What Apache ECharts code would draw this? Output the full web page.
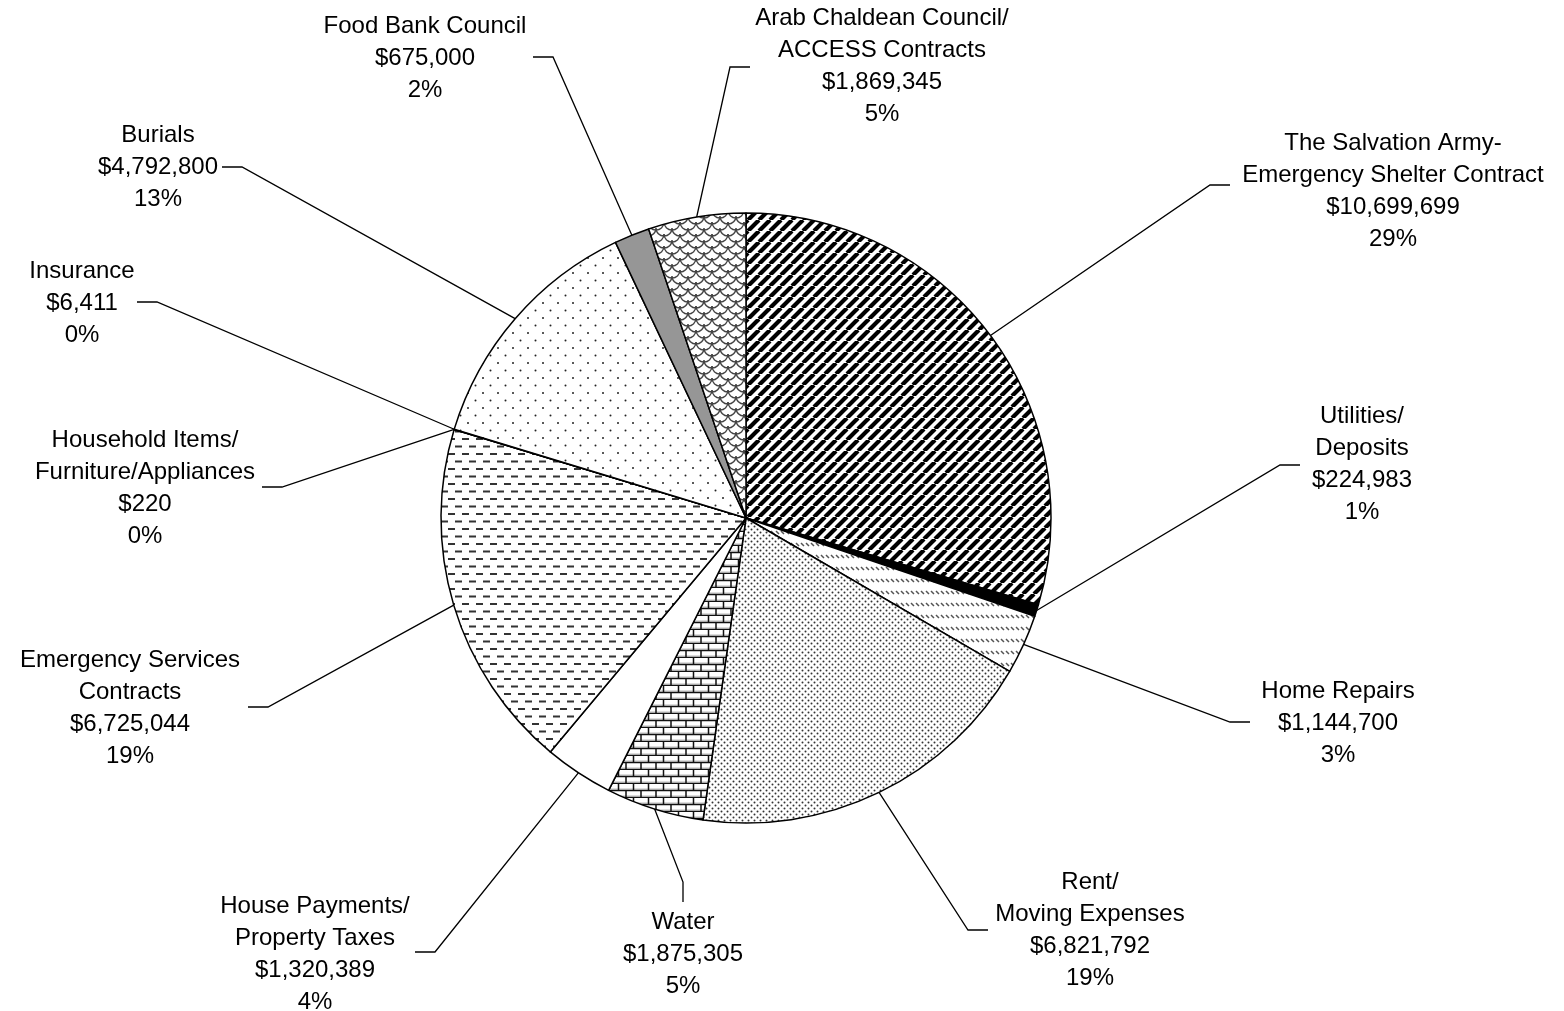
<!DOCTYPE html>
<html><head><meta charset="utf-8">
<script src="https://cdn.jsdelivr.net/npm/echarts@6/dist/echarts.min.js"></script>
<style>html,body{margin:0;padding:0;background:#fff}#c{width:1564px;height:1011px}</style>
</head><body><div id="c"></div>
<script>
// ---- data ----
const categories = [
  'The Salvation Army-\nEmergency Shelter Contract',
  'Utilities/\nDeposits',
  'Home Repairs',
  'Rent/\nMoving Expenses',
  'Water',
  'House Payments/\nProperty Taxes',
  'Emergency Services\nContracts',
  'Household Items/\nFurniture/Appliances',
  'Insurance',
  'Burials',
  'Food Bank Council',
  'Arab Chaldean Council/\nACCESS Contracts'
];
const amounts = [10699699, 224983, 1144700, 6821792, 1875305, 1320389, 6725044, 220, 6411, 4792800, 675000, 1869345];

// ---- layout (label block centre, line end, line bend) ----
const CX = 746, CY = 518, R = 305;
const labelLayoutCfg = [
  [1393, 191, 1230, 185, 1210, 185],
  [1362, 464, 1300, 465, 1280, 465],
  [1338, 723, 1250, 722, 1230, 722],
  [1090, 930, 988, 930, 968, 930],
  [683, 954, 683, 902, 683, 882],
  [315, 954, 415, 952, 435, 952],
  [130, 708, 248, 707, 268, 707],
  [145, 488, 262, 487, 282, 487],
  [82, 303, 137, 302, 157, 302],
  [158, 167, 222, 167, 242, 167],
  [425, 58, 533, 57, 553, 57],
  [882, 66, 750, 67, 730, 67]
];

// ---- fill patterns ----
function tile(w, h, draw) {
  const c = document.createElement('canvas');
  c.width = w; c.height = h;
  const g = c.getContext('2d');
  g.fillStyle = '#fff'; g.fillRect(0, 0, w, h);
  draw(g, w, h);
  return { image: c, repeat: 'repeat' };
}
function dot(g, x, y, r, col) { g.fillStyle = col; g.beginPath(); g.arc(x, y, r, 0, Math.PI * 2); g.fill(); }

const patStripesBold = tile(11, 11, (g, w) => {
  g.strokeStyle = '#000'; g.lineWidth = 4.2; g.beginPath();
  for (let k = -1; k <= 1; k++) { g.moveTo(k * w, w); g.lineTo(k * w + w, 0); }
  g.stroke();
});
const patSolidBlack = '#000';
const patLightSlash = tile(5, 12, (g) => {
  g.strokeStyle = '#555'; g.lineWidth = 1.5; g.beginPath();
  g.moveTo(1, 3); g.lineTo(4, 6); g.stroke();
});
const patDenseDots = tile(6, 6, (g) => {
  dot(g, 1.5, 1.5, 1.0, '#333'); dot(g, 4.5, 4.5, 1.0, '#333');
});
const patBrick = tile(15, 14, (g) => {
  g.fillStyle = '#dcdcdc'; g.fillRect(0, 0, 15, 14);
  g.fillStyle = '#fff'; g.fillRect(0, 0, 15, 4); g.fillRect(0, 7, 15, 4);
  g.strokeStyle = '#111'; g.lineWidth = 1.5; g.beginPath();
  g.moveTo(0, 6.5); g.lineTo(15, 6.5);
  g.moveTo(0, 13.5); g.lineTo(15, 13.5);
  g.moveTo(3.5, 0); g.lineTo(3.5, 6.5);
  g.moveTo(11, 7); g.lineTo(11, 13.5);
  g.stroke();
});
const patWhite = '#fff';
const patDashes = tile(14, 15, (g) => {
  g.fillStyle = '#333';
  g.fillRect(0, 3, 7, 2);
  g.fillRect(7, 10.5, 7, 2);
});
const patSparseDots = tile(15, 15, (g) => {
  dot(g, 3, 3, 1.0, '#222'); dot(g, 10.5, 10.5, 1.0, '#222');
});
const patGray = '#969696';
const patScales = tile(16, 12, (g) => {
  g.strokeStyle = '#444'; g.lineWidth = 1.4;
  const arcs = [[8, 0], [0, 6], [16, 6], [8, 12], [0, -6], [16, -6]];
  arcs.forEach(a => { g.beginPath(); g.arc(a[0], a[1], 8, 0, Math.PI); g.stroke(); });
});
const fills = [patStripesBold, patSolidBlack, patLightSlash, patDenseDots, patBrick, patWhite,
  patDashes, patWhite, patWhite, patSparseDots, patGray, patScales];

// ---- geometry for label lines ----
const total = amounts.reduce((a, b) => a + b, 0);
const edgePts = [];
{
  let acc = 0;
  amounts.forEach(v => {
    const mid = (acc + v / 2) / total * Math.PI * 2;
    edgePts.push([CX + R * Math.sin(mid), CY - R * Math.cos(mid)]);
    acc += v;
  });
}

const chart = echarts.init(document.getElementById('c'), null, { renderer: 'canvas' });
chart.setOption({
  backgroundColor: '#fff',
  animation: false,
  series: [{
    type: 'pie',
    center: [CX, CY],
    radius: R,
    startAngle: 90,
    clockwise: true,
    percentPrecision: 0,
    avoidLabelOverlap: false,
    silent: true,
    data: categories.map((n, i) => ({ name: n, value: amounts[i], itemStyle: { color: fills[i] } })),
    itemStyle: { borderColor: '#000', borderWidth: 1.5 },
    label: {
      show: true,
      position: 'outside',
      fontFamily: 'Liberation Sans, Arial, sans-serif',
      fontSize: 24,
      lineHeight: 32,
      color: '#000',
      align: 'center',
      formatter: p => p.name + '\n$' + p.value.toLocaleString('en-US') + '\n' + p.percent + '%'
    },
    labelLine: { show: true, lineStyle: { color: '#000', width: 1.3 } },
    labelLayout: params => {
      const i = params.dataIndex;
      const c = labelLayoutCfg[i];
      return {
        x: c[0], y: c[1], align: 'center', verticalAlign: 'middle',
        labelLinePoints: [edgePts[i], [c[4], c[5]], [c[2], c[3]]]
      };
    }
  }]
});
</script></body></html>
